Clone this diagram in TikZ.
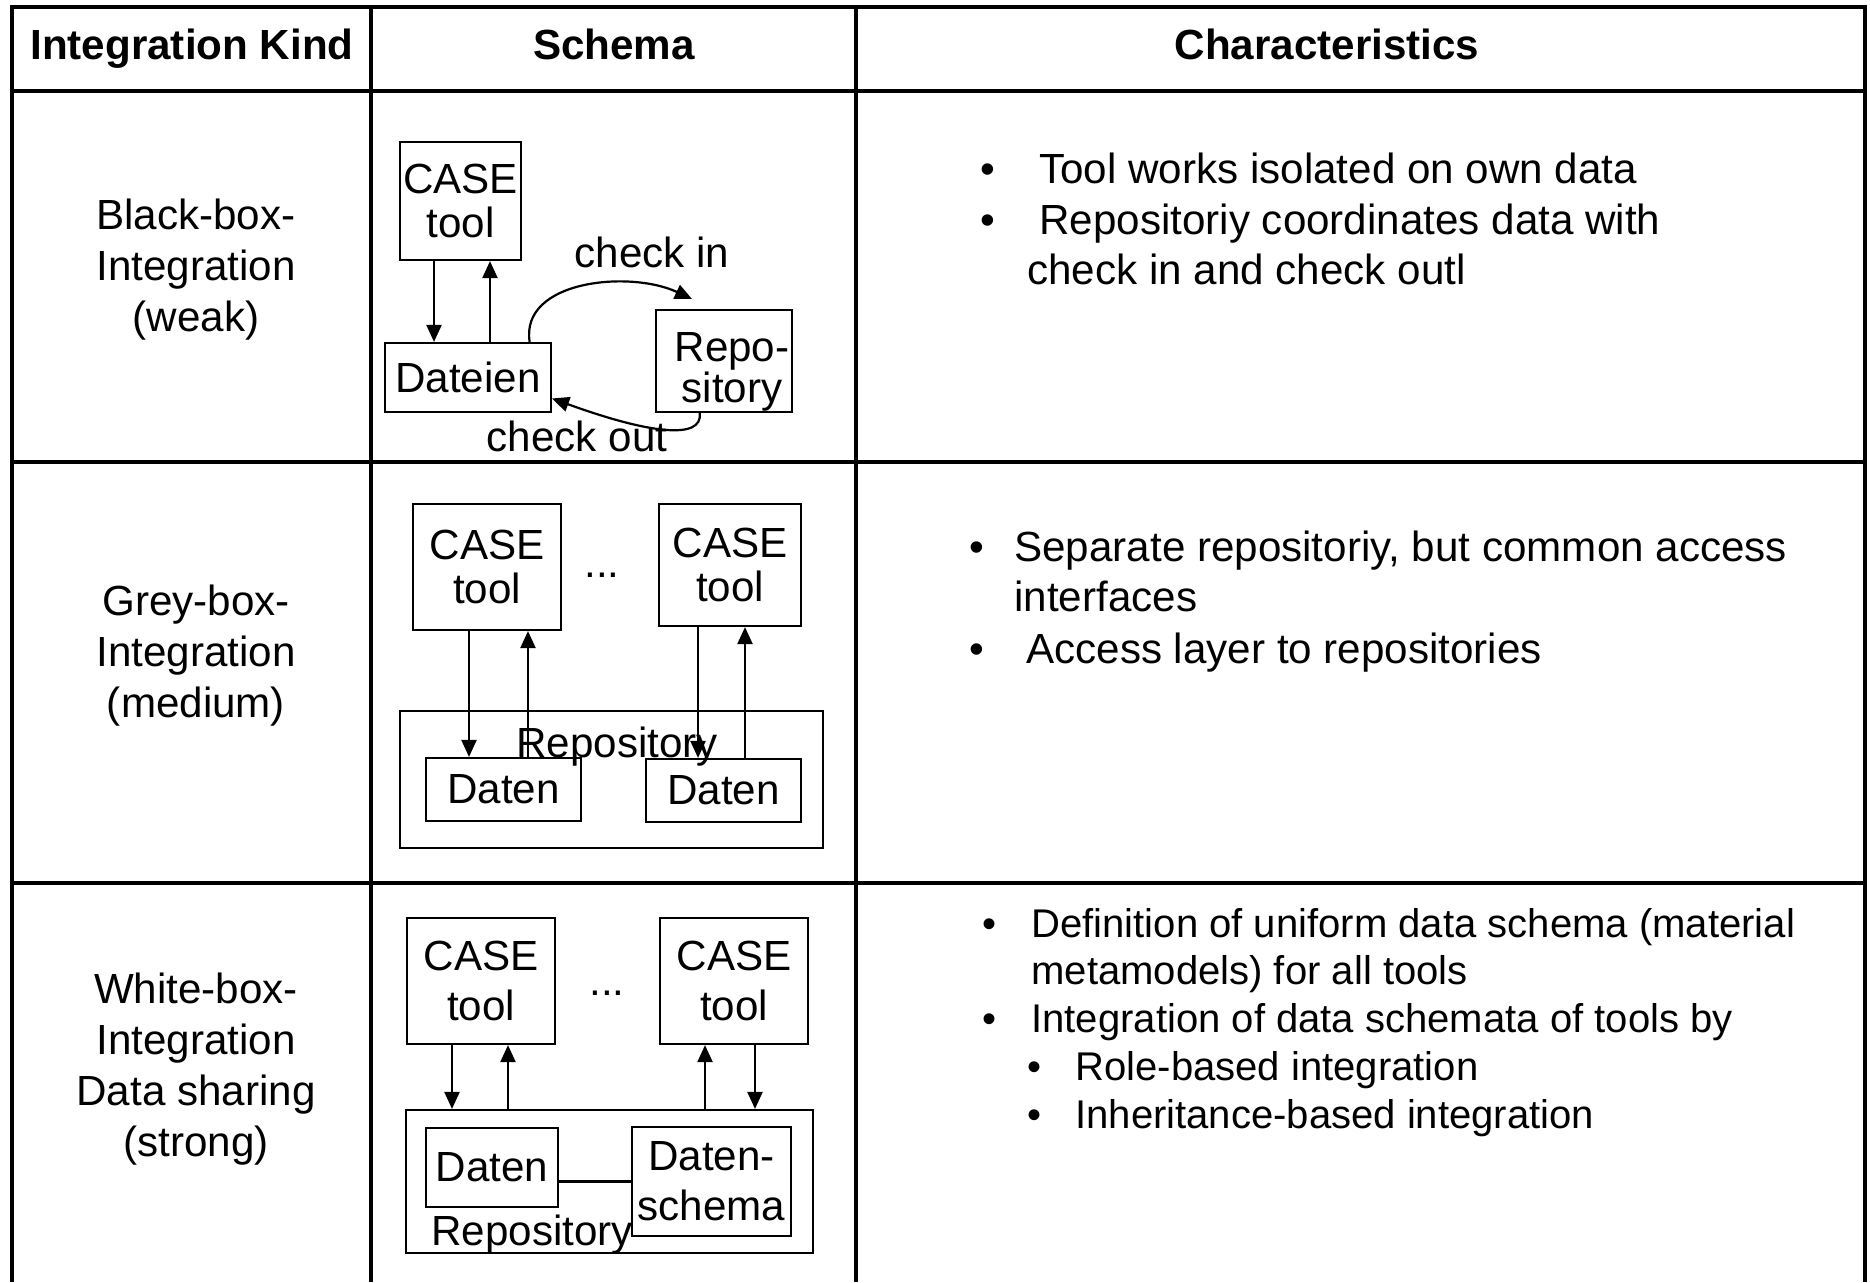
\documentclass[tikz,border=0pt]{standalone}
\usepackage{fontspec}
\setmainfont{Liberation Sans}
\usetikzlibrary{arrows.meta}

\tikzset{
  tableline/.style={line width=0.08cm},
  schemabox/.style={draw, line width=0.044cm, inner sep=0pt, align=center, font=\fontsize{24}{25}\selectfont},
  lbl/.style={inner sep=0pt, font=\fontsize{24}{29}\selectfont},
  smalllbl/.style={inner sep=0pt, font=\fontsize{22.8}{27}\selectfont},
  headlbl/.style={inner sep=0pt, font=\fontsize{24}{29}\selectfont\bfseries},
  arr/.style={line width=0.044cm, -{Triangle[length=0.34cm,width=0.3cm]}},
}

\begin{document}
\begin{tikzpicture}[x=0.02cm, y=-0.02cm]
                \useasboundingbox (0,0) rectangle (1870,1282);

                % Drawing segment outer frame
                \draw [tableline] (12,1282) -- (12,7) -- (1865,7) -- (1865,1282);%

                % Drawing segment header bottom
                \draw [tableline] (12,91) -- (1865,91);%

                % Drawing segment row weak / row medium
                \draw [tableline] (12,462) -- (1865,462);%

                % Drawing segment row medium / row strong
                \draw [tableline] (12,883) -- (1865,883);%

                % Drawing segment column kind / column schema
                \draw [tableline] (371,7) -- (371,1282);%

                % Drawing segment column schema / column characteristics
                \draw [tableline] (856,7) -- (856,1282);%

                % Marking header texts
                \node [headlbl, anchor=base] (hkind) at (192,59) {Integration Kind};%
                \node [headlbl, anchor=base] (hschema) at (614,59) {Schema};%
                \node [headlbl, anchor=base] (hchar) at (1327,59) {Characteristics};%

                % Marking integration kinds
                \node [lbl, align=center] (kweak) at (196,270) {Black-box-\\Integration\\(weak)};%
                \node [lbl, align=center] (kmedium) at (196,656) {Grey-box-\\Integration\\(medium)};%
                \node [lbl, align=center] (kstrong) at (196,1069) {White-box-\\Integration\\Data sharing\\(strong)};%

                % Drawing black-box schema
                \node [schemabox, minimum width=2.42cm, minimum height=2.36cm] (bbcase) at (460.5,201) {CASE\\tool};%
                \node [schemabox, minimum width=3.32cm, minimum height=1.38cm] (bbfiles) at (468,377.5) {Dateien};%
                \node [schemabox, minimum width=2.72cm, minimum height=2.04cm] (bbrepo) at (724,361) {};%
                \node [lbl, align=center, font=\fontsize{24}{23}\selectfont] (bbrepotxt) at (732,372) {Repo-\\sitory};%
                \draw [arr] ([xshift=-0.53cm]bbcase.south) -- ([xshift=-0.53cm]bbcase.south |- bbfiles.north);%
                \draw [arr] ([xshift=0.59cm]bbcase.south |- bbfiles.north) -- ([xshift=0.59cm]bbcase.south);%
                \coordinate (cinend) at (692,299);
                \draw [arr] (bbfiles.30) .. controls (520,280) and (630,270) .. (cinend);%
                \draw [arr] (bbrepo.245) .. controls (703,440) and (650,434) .. (bbfiles.-14.5);%
                \node [lbl, anchor=base] (cin) at (652,267) {check in};%
                \node [lbl, anchor=base] (cout) at (577,451) {check out};%

                % Drawing grey-box schema
                \node [schemabox, minimum width=8.46cm, minimum height=2.74cm] (gbrepo) at (611.5,779.5) {};%
                \node [schemabox, minimum width=2.96cm, minimum height=2.52cm] (gbcasea) at (487,567) {CASE\\tool};%
                \node [schemabox, minimum width=2.84cm, minimum height=2.44cm] (gbcaseb) at (730,565) {CASE\\tool};%
                \node [schemabox, minimum width=3.1cm, minimum height=1.26cm] (gbdataa) at (503.5,789.5) {Daten};%
                \node [schemabox, minimum width=3.1cm, minimum height=1.26cm] (gbdatab) at (723.5,790.5) {Daten};%
                \node [lbl, anchor=base] (gbdots) at (602,577) {...};%
                \node [lbl, anchor=base] (gbrepolbl) at (617,757) {Repository};%
                \draw [arr] ([xshift=-0.36cm]gbcasea.south) -- ([xshift=-0.36cm]gbcasea.south |- gbdataa.north);%
                \draw [arr] ([xshift=0.82cm]gbcasea.south |- gbdataa.north) -- ([xshift=0.82cm]gbcasea.south);%
                \draw [arr] ([xshift=-0.64cm]gbcaseb.south) -- ([xshift=-0.64cm]gbcaseb.south |- gbdatab.north);%
                \draw [arr] ([xshift=0.3cm]gbcaseb.south |- gbdatab.north) -- ([xshift=0.3cm]gbcaseb.south);%

                % Drawing white-box schema
                \node [schemabox, minimum width=8.14cm, minimum height=2.86cm] (wbrepo) at (609.5,1181.5) {};%
                \node [schemabox, minimum width=2.96cm, minimum height=2.52cm, font=\fontsize{24}{28.5}\selectfont] (wbcasea) at (481,981) {CASE\\tool};%
                \node [schemabox, minimum width=2.96cm, minimum height=2.52cm, font=\fontsize{24}{28.5}\selectfont] (wbcaseb) at (734,981) {CASE\\tool};%
                \node [schemabox, minimum width=2.64cm, minimum height=1.58cm] (wbdata) at (492,1167.5) {Daten};%
                \node [schemabox, minimum width=3.18cm, minimum height=2.18cm, font=\fontsize{24}{28.5}\selectfont] (wbschema) at (711.5,1181.5) {Daten-\\schema};%
                \node [lbl, anchor=base] (wbdots) at (607,995) {...};%
                \node [lbl, anchor=base] (wbrepolbl) at (532,1245) {Repository};%
                \draw [line width=0.044cm] (wbschema.west) -- (wbschema.west -| wbdata.east);%
                \draw [arr] ([xshift=-0.58cm]wbcasea.south) -- ([xshift=-0.58cm]wbcasea.south |- wbrepo.north);%
                \draw [arr] ([xshift=0.54cm]wbcasea.south |- wbrepo.north) -- ([xshift=0.54cm]wbcasea.south);%
                \draw [arr] ([xshift=-0.58cm]wbcaseb.south |- wbrepo.north) -- ([xshift=-0.58cm]wbcaseb.south);%
                \draw [arr] ([xshift=0.42cm]wbcaseb.south) -- ([xshift=0.42cm]wbcaseb.south |- wbrepo.north);%

                % Marking characteristics weak
                \node [lbl, anchor=base west] (cwbula) at (980,183) {\textbullet};%
                \node [lbl, anchor=base west] (cwa) at (1039,183) {Tool works isolated on own data};%
                \node [lbl, anchor=base west] (cwbulb) at (980,234) {\textbullet};%
                \node [lbl, anchor=base west] (cwb) at (1039,234) {Repositoriy coordinates data with};%
                \node [lbl, anchor=base west] (cwc) at (1027,284) {check in and check outl};%

                % Marking characteristics medium
                \node [lbl, anchor=base west] (cmbula) at (969,561) {\textbullet};%
                \node [lbl, anchor=base west] (cma) at (1014,561) {Separate repositoriy, but common access};%
                \node [lbl, anchor=base west] (cmb) at (1014,611) {interfaces};%
                \node [lbl, anchor=base west] (cmbulc) at (969,663) {\textbullet};%
                \node [lbl, anchor=base west] (cmc) at (1026,663) {Access layer to repositories};%

                % Marking characteristics strong
                \node [smalllbl, anchor=base west] (csbula) at (982,937) {\textbullet};%
                \node [smalllbl, anchor=base west] (csa) at (1031,937) {Definition of uniform data schema (material};%
                \node [smalllbl, anchor=base west] (csb) at (1031,984) {metamodels) for all tools};%
                \node [smalllbl, anchor=base west] (csbulc) at (982,1032) {\textbullet};%
                \node [smalllbl, anchor=base west] (csc) at (1031,1032) {Integration of data schemata of tools by};%
                \node [smalllbl, anchor=base west] (csbuld) at (1027,1080) {\textbullet};%
                \node [smalllbl, anchor=base west] (csd) at (1075,1080) {Role-based integration};%
                \node [smalllbl, anchor=base west] (csbule) at (1027,1128) {\textbullet};%
                \node [smalllbl, anchor=base west] (cse) at (1075,1128) {Inheritance-based integration};%
\end{tikzpicture}
\end{document}
